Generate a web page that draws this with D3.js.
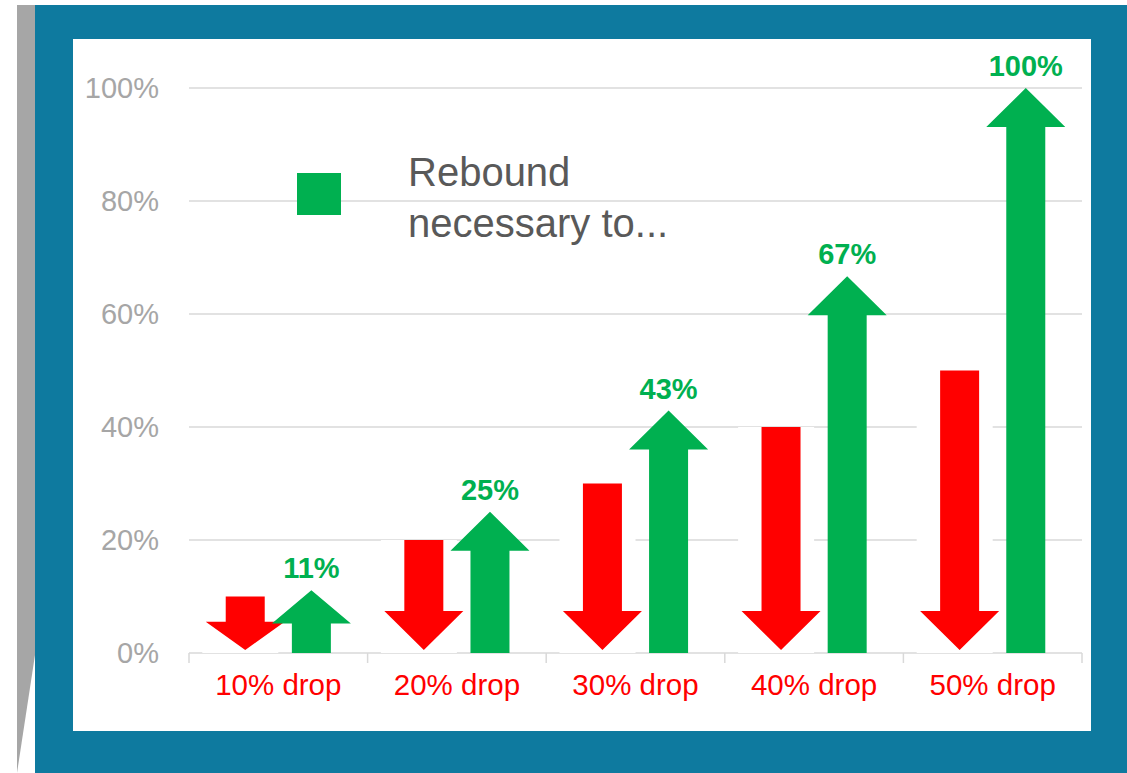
<!DOCTYPE html>
<html>
<head>
<meta charset="utf-8">
<script src="https://cdn.jsdelivr.net/npm/d3@7"></script>
<style>
  html, body { margin: 0; padding: 0; background: #ffffff; }
  svg { display: block; font-family: "Liberation Sans", Arial, sans-serif; }
</style>
</head>
<body>
<svg id="chart" width="1127" height="773"></svg>
<script>
// ---- data ----
const categories = ["10% drop", "20% drop", "30% drop", "40% drop", "50% drop"];
const dropValues = [10, 20, 30, 40, 50];
const reboundValues = [11.1, 25, 42.9, 66.7, 100];
const reboundLabels = ["11%", "25%", "43%", "67%", "100%"];
const yTicks = [0, 20, 40, 60, 80, 100];
const legendLines = ["Rebound", "necessary to..."];

const svg = d3.select("#chart");
const W = 1127, H = 773;
const RED = "#ff0000", GREEN = "#00b050", BLUE = "#0e7a9f", GREY = "#a6a6a6";

// ---- frame ----
svg.append("path")
  .attr("d", "M17,5 L35,5 L35,655 L17,773 Z")
  .attr("fill", GREY);
svg.append("rect").attr("x", 35).attr("y", 5).attr("width", W - 35).attr("height", H - 5).attr("fill", BLUE);
svg.append("rect").attr("x", 73).attr("y", 39).attr("width", 1091 - 73).attr("height", 731 - 39).attr("fill", "#ffffff");

// ---- scales ----
const plot = { left: 189, right: 1082, top: 88, bottom: 653 };
const x = d3.scaleBand().domain(categories).range([plot.left, plot.right]).padding(0);
const y = d3.scaleLinear().domain([0, 100]).range([plot.bottom, plot.top]);
const series = ["drop", "rebound"];
const xBar = d3.scaleBand().domain(series).range([0, x.bandwidth()]).paddingInner(0).paddingOuter(0.175);
const xArrow = d3.scalePoint().domain(series).range([0, x.bandwidth()]).padding(0.85);

// ---- gridlines ----
svg.append("g").selectAll("line").data(yTicks.filter(d => d > 0)).join("line")
  .attr("x1", plot.left).attr("x2", plot.right)
  .attr("y1", d => y(d)).attr("y2", d => y(d))
  .attr("stroke", "#d9d9d9").attr("stroke-width", 1.5);

// ---- y axis labels ----
svg.append("g").selectAll("text").data(yTicks).join("text")
  .attr("x", 159).attr("y", d => y(d))
  .attr("text-anchor", "end").attr("dominant-baseline", "central")
  .attr("fill", GREY).attr("font-size", 29)
  .text(d => d + "%");

// ---- x axis ----
const xAxis = d3.axisBottom(x).tickSize(0).tickFormat("");
const gx = svg.append("g").attr("transform", `translate(0,${plot.bottom})`).call(xAxis);
gx.select(".domain").remove();
svg.append("line").attr("x1", plot.left).attr("x2", plot.right)
  .attr("y1", plot.bottom).attr("y2", plot.bottom)
  .attr("stroke", "#d9d9d9").attr("stroke-width", 1.5);
const boundaries = categories.map(c => x(c)).concat([x(categories[categories.length - 1]) + x.bandwidth()]);
svg.append("g").selectAll("line").data(boundaries).join("line")
  .attr("x1", d => d).attr("x2", d => d)
  .attr("y1", plot.bottom).attr("y2", plot.bottom + 10)
  .attr("stroke", "#d9d9d9").attr("stroke-width", 1.5);
svg.append("g").selectAll("text").data(categories).join("text")
  .attr("x", d => x(d) + x.bandwidth() / 2).attr("y", 695)
  .attr("text-anchor", "middle").attr("fill", RED).attr("font-size", 29.5)
  .text(d => d);

// ---- white bars behind red arrows (hide gridlines) ----
svg.append("g").selectAll("rect").data(categories).join("rect")
  .attr("x", (c) => x(c) + xBar("drop"))
  .attr("y", (c, i) => y(dropValues[i]))
  .attr("width", xBar.bandwidth())
  .attr("height", (c, i) => y(0) - y(dropValues[i]))
  .attr("fill", "#ffffff");

const bodyHalf = 19.5, headHalf = 39.5;
function downArrow(cx, yTop, yTip) {
  const hh = Math.min(39, 0.53 * (yTip - yTop));
  const yb = yTip - hh;
  return `M${cx - bodyHalf},${yTop} L${cx + bodyHalf},${yTop} L${cx + bodyHalf},${yb} L${cx + headHalf},${yb} L${cx},${yTip} L${cx - headHalf},${yb} L${cx - bodyHalf},${yb} Z`;
}
function upArrow(cx, yBottom, yTip) {
  const hh = Math.min(39, 0.53 * (yBottom - yTip));
  const yb = yTip + hh;
  return `M${cx - bodyHalf},${yBottom} L${cx - bodyHalf},${yb} L${cx - headHalf},${yb} L${cx},${yTip} L${cx + headHalf},${yb} L${cx + bodyHalf},${yb} L${cx + bodyHalf},${yBottom} Z`;
}

// ---- red arrows ----
svg.append("g").selectAll("path").data(categories).join("path")
  .attr("d", (c, i) => downArrow(x(c) + xArrow("drop"), y(dropValues[i]), y(0) - 3))
  .attr("fill", RED);

// ---- green arrows ----
svg.append("g").selectAll("path").data(categories).join("path")
  .attr("d", (c, i) => upArrow(x(c) + xArrow("rebound"), y(0), y(reboundValues[i])))
  .attr("fill", GREEN);

// ---- green labels ----
svg.append("g").selectAll("text").data(categories).join("text")
  .attr("x", c => x(c) + xArrow("rebound"))
  .attr("y", (c, i) => y(reboundValues[i]) - 12)
  .attr("text-anchor", "middle").attr("fill", GREEN)
  .attr("font-size", 29).attr("font-weight", "bold")
  .text((c, i) => reboundLabels[i]);

// ---- legend ----
const lg = svg.append("g");
lg.append("rect").attr("x", 297).attr("y", 173).attr("width", 44).attr("height", 42).attr("fill", GREEN);
lg.selectAll("text").data(legendLines).join("text")
  .attr("x", 408).attr("y", (d, i) => 186 + i * 51)
  .attr("fill", "#595959").attr("font-size", 40)
  .text(d => d);
</script>
</body>
</html>
